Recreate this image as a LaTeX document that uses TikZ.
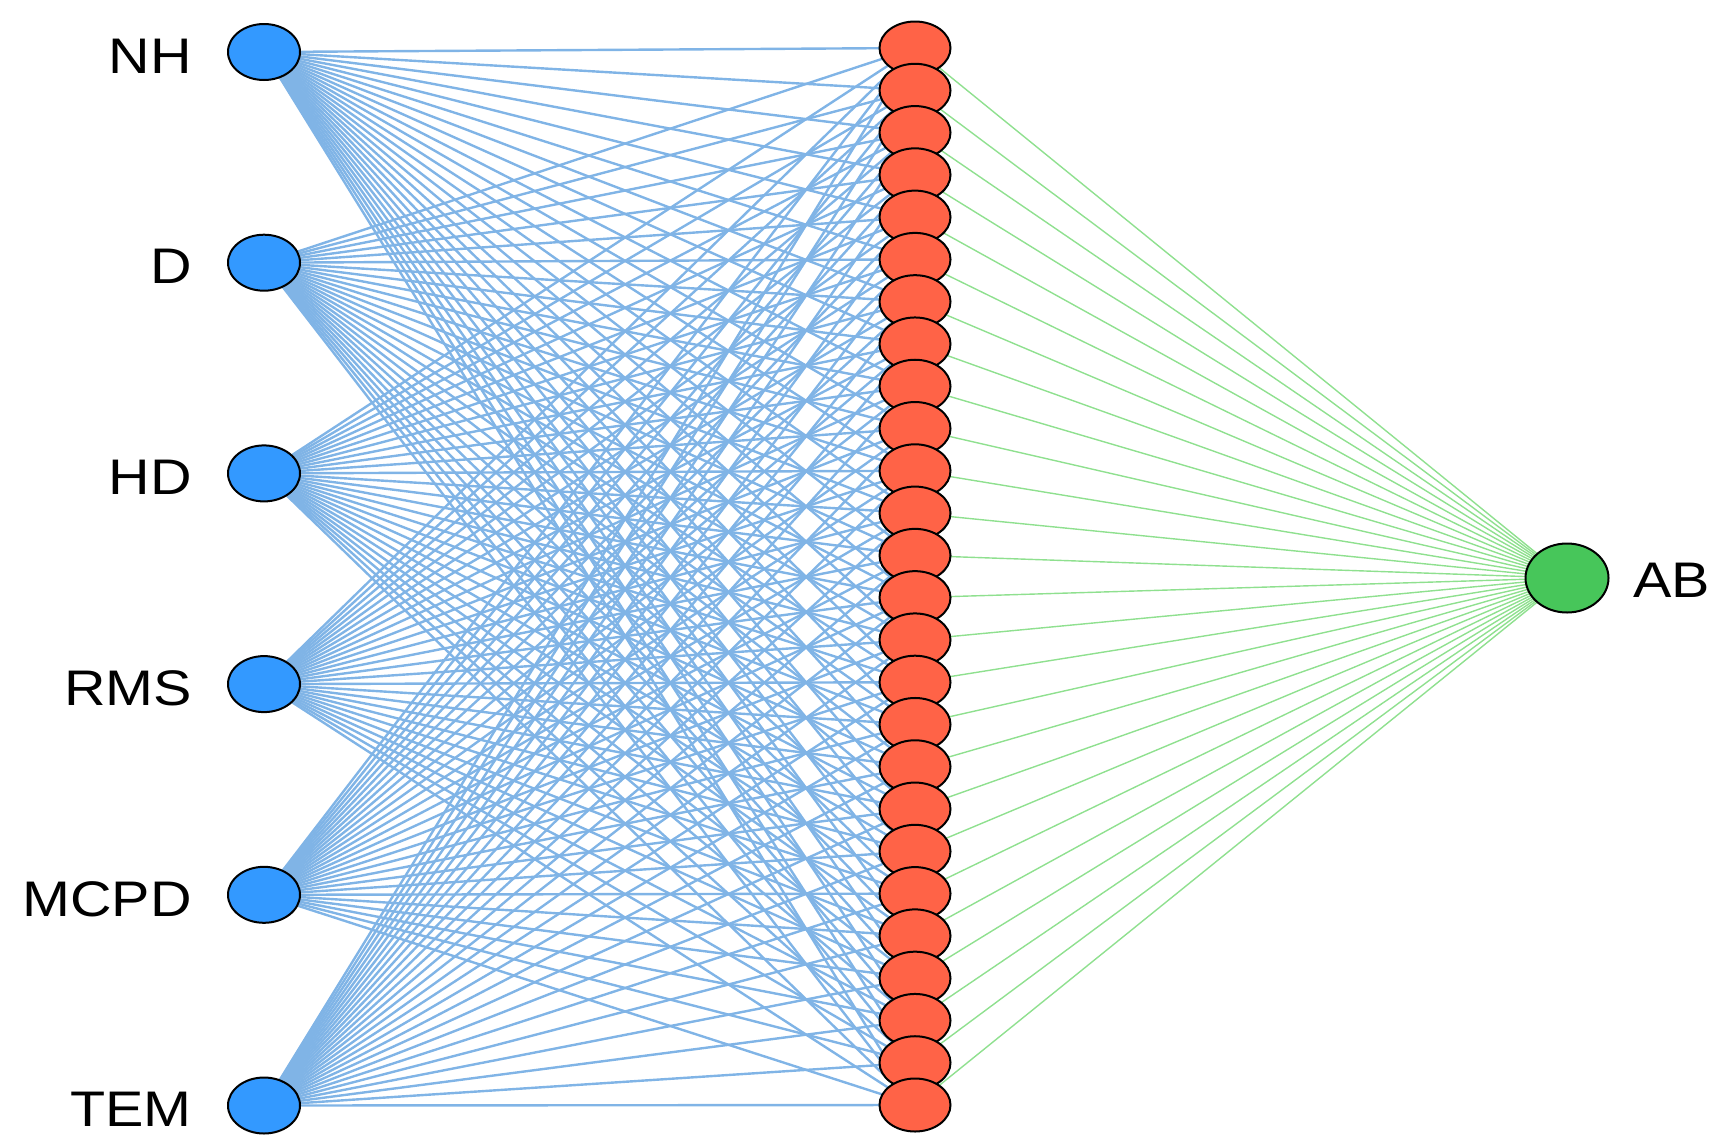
\documentclass[tikz,border=0pt]{standalone}
\usepackage{fontspec}
\setmainfont{Liberation Sans}
\newfontfamily\labfont[FakeStretch=1.15]{Liberation Sans}
\pgfdeclarelayer{bg}
\pgfsetlayers{bg,main}
\definecolor{inblue}{HTML}{3399FF}
\definecolor{hidred}{HTML}{FF6347}
\definecolor{outgreen}{HTML}{47C65A}
\definecolor{edgeblue}{HTML}{80B4E6}
\definecolor{edgegreen}{HTML}{8FE08F}
\tikzset{
  innode/.style={ellipse, draw=black, line width=2pt, fill=inblue, minimum width=72pt, minimum height=56pt, inner sep=0pt},
  hidnode/.style={ellipse, draw=black, line width=2pt, fill=hidred, minimum width=71pt, minimum height=53pt, inner sep=0pt},
  outnode/.style={ellipse, draw=black, line width=2pt, fill=outgreen, minimum width=83pt, minimum height=69pt, inner sep=0pt},
  lab/.style={inner sep=0pt, font=\labfont\fontsize{50pt}{50pt}\selectfont},
  bedge/.style={draw=edgeblue, line width=2.4pt},
  gedge/.style={draw=edgegreen, line width=1.4pt}
}
\usetikzlibrary{shapes.geometric}
\begin{document}
\begin{tikzpicture}[x=1pt,y=-1pt]
\useasboundingbox (0,0) rectangle (1728,1146);
% input nodes
\foreach \t [count=\i from 0] in {NH,D,HD,RMS,MCPD,TEM} {
  \node[innode] (in\i) at (264,{52+\i*210.7}) {};
  \node[lab, anchor=east] (l\i) at (192,{56+\i*210.7}) {\t};
}
% hidden nodes
\foreach \j in {0,...,25} {
  \node[hidnode] (h\j) at (915,{48+\j*42.28}) {};
}
% output
\node[outnode] (out) at (1567,578) {};
\node[lab, anchor=west] (lout) at (1633,580) {AB};
\begin{pgfonlayer}{bg}
\foreach \i in {0,...,5} {
  \foreach \j in {0,...,25} {
    \draw[bedge] (in\i.center) -- (h\j.center);
  }
}
\foreach \j in {0,...,25} {
  \draw[gedge] (h\j.center) -- (out.center);
}
\end{pgfonlayer}
\end{tikzpicture}
\end{document}
